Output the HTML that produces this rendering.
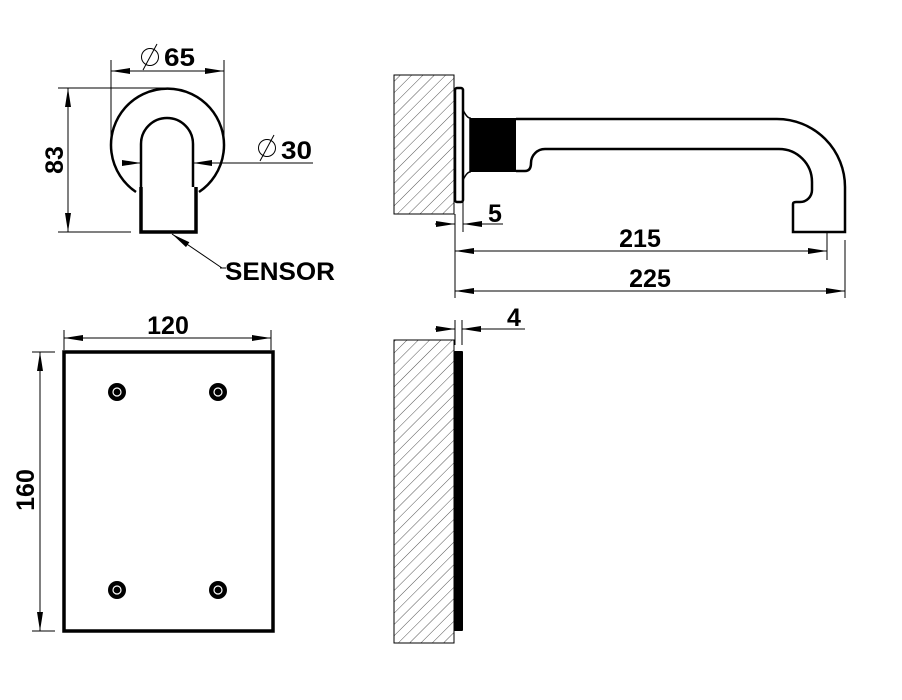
<!DOCTYPE html>
<html><head><style>body{margin:0;background:#fff}svg{display:block}text{font-family:"Liberation Sans",Arial,sans-serif;font-weight:bold;fill:#000}</style></head>
<body>
<svg width="902" height="700" viewBox="0 0 902 700" xmlns="http://www.w3.org/2000/svg">
<defs>
<pattern id="h" patternUnits="userSpaceOnUse" width="8" height="8" patternTransform="rotate(45)">
<line x1="0" y1="0" x2="0" y2="8" stroke="#555" stroke-width="1"/></pattern>
<marker id="a" markerWidth="20" markerHeight="8" refX="19" refY="4" orient="auto" markerUnits="userSpaceOnUse"><path d="M0,1 L19,4 L0,7 Z" fill="#000"/></marker>
</defs>
<g stroke="#000" fill="none">
<!-- top left -->
<path d="M136,192 A56.5,56.5 0 1 1 199,192" stroke-width="2.5"/>
<path d="M141,187 L141,144 A26,26 0 0 1 193,144 L193,187" stroke-width="2.5"/>
<path d="M141,187 L141,232 L196,232 L196,187" stroke-width="3.5"/>
<line x1="111" y1="60" x2="111" y2="145" stroke-width="1"/>
<line x1="224" y1="60" x2="224" y2="145" stroke-width="1"/>
<line x1="168" y1="71" x2="111" y2="71" stroke-width="1" marker-end="url(#a)"/>
<line x1="168" y1="71" x2="224" y2="71" stroke-width="1" marker-end="url(#a)"/>
<line x1="58" y1="88" x2="166" y2="88" stroke-width="1"/>
<line x1="58" y1="232" x2="131" y2="232" stroke-width="1"/>
<line x1="68" y1="160" x2="68" y2="88" stroke-width="1" marker-end="url(#a)"/>
<line x1="68" y1="160" x2="68" y2="232" stroke-width="1" marker-end="url(#a)"/>
<line x1="122" y1="163" x2="141" y2="163" stroke-width="1" marker-end="url(#a)"/>
<line x1="313" y1="163" x2="193" y2="163" stroke-width="1" marker-end="url(#a)"/>
<line x1="222" y1="268" x2="172" y2="234" stroke-width="1" marker-end="url(#a)"/>
<line x1="220" y1="268" x2="226" y2="268" stroke-width="1"/>
<circle cx="150" cy="57" r="8.5" stroke-width="1"/><line x1="143" y1="70" x2="157" y2="44" stroke-width="1"/>
<circle cx="267" cy="148" r="8.5" stroke-width="1"/><line x1="260" y1="161" x2="274" y2="135" stroke-width="1"/>
<!-- side top -->
<rect x="394" y="75" width="60" height="139" fill="url(#h)" stroke-width="1"/>
<rect x="455" y="88" width="8" height="114" rx="2" stroke-width="2.5"/>
<path d="M463,110 Q467,118 470,118 L470,172 Q467,172 463,180" stroke-width="1.5"/>
<rect x="470" y="118" width="46" height="54" fill="#000" stroke="none"/>
<path d="M516,119 L777,119 A68,68 0 0 1 845,187 L845,232 L793,232 L793,204 Q793,202 796,202 L800,202 A12,12 0 0 0 812,190 L812,182 A33,33 0 0 0 779,149 L545,149 A14,14 0 0 0 531,163 Q531,171 525,171 L516,171" stroke-width="2.5"/>
<line x1="455" y1="214" x2="455" y2="298" stroke-width="1"/>
<line x1="463" y1="202" x2="463" y2="232" stroke-width="1"/>
<line x1="827" y1="232" x2="827" y2="260" stroke-width="1"/>
<line x1="845" y1="240" x2="845" y2="298" stroke-width="1"/>
<line x1="435" y1="224" x2="455" y2="224" stroke-width="1" marker-end="url(#a)"/>
<line x1="503" y1="224" x2="463" y2="224" stroke-width="1" marker-end="url(#a)"/>
<line x1="640" y1="251" x2="455" y2="251" stroke-width="1" marker-end="url(#a)"/>
<line x1="640" y1="251" x2="827" y2="251" stroke-width="1" marker-end="url(#a)"/>
<line x1="650" y1="291" x2="455" y2="291" stroke-width="1" marker-end="url(#a)"/>
<line x1="650" y1="291" x2="845" y2="291" stroke-width="1" marker-end="url(#a)"/>
<!-- front plate -->
<rect x="64" y="352" width="209" height="279" stroke-width="3.5"/>
<line x1="64" y1="330" x2="64" y2="350" stroke-width="1"/>
<line x1="271" y1="330" x2="271" y2="350" stroke-width="1"/>
<line x1="168" y1="338" x2="64" y2="338" stroke-width="1" marker-end="url(#a)"/>
<line x1="168" y1="338" x2="271" y2="338" stroke-width="1" marker-end="url(#a)"/>
<line x1="32" y1="352" x2="55" y2="352" stroke-width="1"/>
<line x1="32" y1="631" x2="55" y2="631" stroke-width="1"/>
<line x1="40" y1="490" x2="40" y2="352" stroke-width="1" marker-end="url(#a)"/>
<line x1="40" y1="490" x2="40" y2="631" stroke-width="1" marker-end="url(#a)"/>
<!-- side bottom -->
<rect x="394" y="340" width="60" height="303" fill="url(#h)" stroke-width="1"/>
<rect x="454" y="351" width="9" height="280" rx="1" fill="#000" stroke="none"/>
<line x1="455" y1="320" x2="455" y2="345" stroke-width="1"/>
<line x1="462" y1="320" x2="462" y2="345" stroke-width="1"/>
<line x1="435" y1="329" x2="455" y2="329" stroke-width="1" marker-end="url(#a)"/>
<line x1="525" y1="329" x2="462" y2="329" stroke-width="1" marker-end="url(#a)"/>
</g>
<g fill="#000">
<circle cx="117" cy="392" r="9"/><circle cx="218" cy="392" r="9"/><circle cx="117" cy="590" r="9"/><circle cx="218" cy="590" r="9"/>
</g>
<g fill="none" stroke="#fff" stroke-width="1.2">
<circle cx="117" cy="392" r="4"/><circle cx="218" cy="392" r="4"/><circle cx="117" cy="590" r="4"/><circle cx="218" cy="590" r="4"/>
</g>
<text x="164" y="66" font-size="25" textLength="31" lengthAdjust="spacingAndGlyphs">65</text>
<text x="281" y="159" font-size="25" textLength="31" lengthAdjust="spacingAndGlyphs">30</text>
<text x="225" y="280" font-size="25" textLength="110" lengthAdjust="spacingAndGlyphs">SENSOR</text>
<text transform="translate(63,160) rotate(-90)" text-anchor="middle" font-size="25">83</text>
<text x="488" y="222" font-size="25">5</text>
<text x="640" y="247" text-anchor="middle" font-size="25">215</text>
<text x="650" y="287" text-anchor="middle" font-size="25">225</text>
<text x="168" y="334" text-anchor="middle" font-size="25">120</text>
<text transform="translate(34,490) rotate(-90)" text-anchor="middle" font-size="25">160</text>
<text x="507" y="326" font-size="25">4</text>
</svg>
</body></html>
